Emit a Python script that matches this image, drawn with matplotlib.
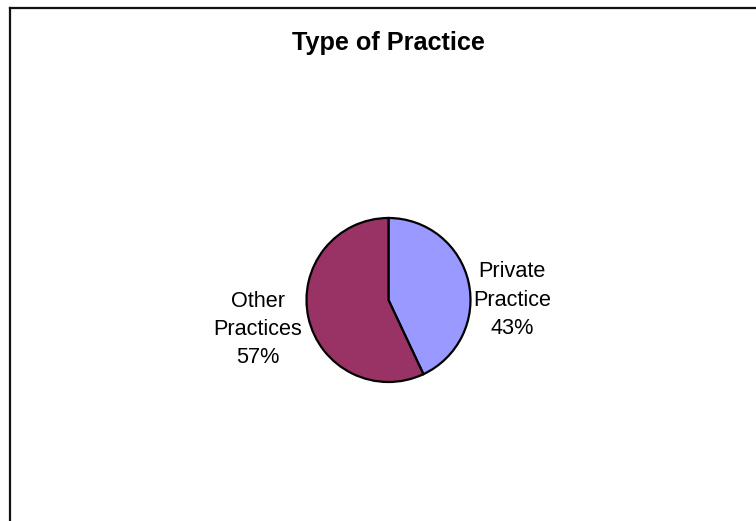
import matplotlib
matplotlib.use('Agg')
import matplotlib.pyplot as plt
from matplotlib.lines import Line2D

plt.rcParams['font.family'] = ['Liberation Sans', 'DejaVu Sans']

categories = ['Private\nPractice', 'Other\nPractices']
shares = [43, 57]
colors = ['#9999FF', '#993366']
title = 'Type of Practice'

W, H = 756, 521
fig = plt.figure(figsize=(W / 100, H / 100), dpi=100)

# chart border (left and top only visible, rest cut off)
fig.add_artist(Line2D([9.5 / W, 9.5 / W], [-0.1, 1 - 7.5 / H], color='#111111', lw=1.6))
fig.add_artist(Line2D([9.5 / W, 1.1], [1 - 7.5 / H, 1 - 7.5 / H], color='#111111', lw=1.6))

fig.text(388.5 / W, 1 - 43 / H, title, ha='center', va='center', fontsize=18.2, fontweight='bold')

cx, cy, r = 388.5, 300, 82
ax = fig.add_axes([(cx - r) / W, (H - cy - r) / H, 2 * r / W, 2 * r / H])
ax.pie(shares, colors=colors, startangle=90, counterclock=False,
       wedgeprops=dict(edgecolor='black', linewidth=1.6))
ax.set_xlim(-1, 1)
ax.set_ylim(-1, 1)
ax.set_aspect('equal')

label_pos = [(1.51, 0.0), (-1.59, -0.36)]
for name, val, (lx, ly) in zip(categories, shares, label_pos):
    ax.text(lx, ly, f'{name}\n{val}%', ha='center', va='center', fontsize=15.6,
            linespacing=1.45, clip_on=False)

fig.savefig('out.png', dpi=100)
